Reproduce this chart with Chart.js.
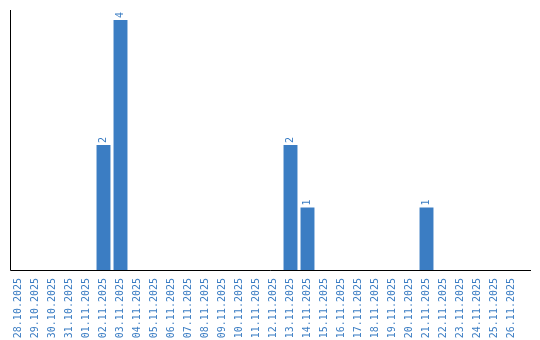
<!DOCTYPE html>
<html>
<head>
<meta charset="utf-8">
<script src="https://cdn.jsdelivr.net/npm/chart.js@4.4.1/dist/chart.umd.min.js"></script>
<style>
  html, body { margin: 0; padding: 0; background: #ffffff; }
  #wrap { width: 540px; height: 340px; }
</style>
</head>
<body>
<div id="wrap"><canvas id="chart"></canvas></div>
<script>
const day_labels = ['28.10.2025', '29.10.2025', '30.10.2025', '31.10.2025', '01.11.2025', '02.11.2025',
  '03.11.2025', '04.11.2025', '05.11.2025', '06.11.2025', '07.11.2025', '08.11.2025', '09.11.2025',
  '10.11.2025', '11.11.2025', '12.11.2025', '13.11.2025', '14.11.2025', '15.11.2025', '16.11.2025',
  '17.11.2025', '18.11.2025', '19.11.2025', '20.11.2025', '21.11.2025', '22.11.2025', '23.11.2025',
  '24.11.2025', '25.11.2025', '26.11.2025'];
const day_counts = [0, 0, 0, 0, 0, 2, 4, 0, 0, 0, 0, 0, 0, 0, 0, 0, 2, 1, 0, 0, 0, 0, 0, 0, 1, 0, 0, 0, 0, 0];

const bar_color = '#3b7dc3';
const font_family = '"DejaVu Sans Mono", "Liberation Mono", monospace';

// axis lines + rotated value labels on top of the bars
const decorations = {
  id: 'decorations',
  afterDatasetsDraw(chart) {
    const ctx = chart.ctx;
    const area = chart.chartArea;
    ctx.save();
    ctx.strokeStyle = '#000000';
    ctx.lineWidth = 1;
    ctx.beginPath();
    ctx.moveTo(area.left + 0.5, area.top);
    ctx.lineTo(area.left + 0.5, area.bottom + 0.5);
    ctx.lineTo(chart.width - 9, area.bottom + 0.5);
    ctx.stroke();

    ctx.fillStyle = bar_color;
    ctx.font = '10px ' + font_family;
    ctx.textAlign = 'left';
    ctx.textBaseline = 'middle';
    chart.getDatasetMeta(0).data.forEach(function (bar, i) {
      var v = day_counts[i];
      if (!v) return;
      ctx.save();
      ctx.translate(bar.x, bar.y - 2);
      ctx.rotate(-Math.PI / 2);
      ctx.fillText(String(v), 0, 0);
      ctx.restore();
    });
    ctx.restore();
  }
};

new Chart(document.getElementById('chart'), {
  type: 'bar',
  data: {
    labels: day_labels,
    datasets: [{
      data: day_counts,
      backgroundColor: bar_color,
      barPercentage: 0.82,
      categoryPercentage: 1.0
    }]
  },
  options: {
    responsive: true,
    maintainAspectRatio: false,
    animation: false,
    layout: { padding: { left: 10, right: 20, top: 10, bottom: 0 } },
    plugins: {
      legend: { display: false },
      tooltip: { enabled: false }
    },
    scales: {
      x: {
        grid: { display: false },
        border: { display: false },
        afterFit: function (scale) { scale.height = 70; },
        ticks: {
          color: bar_color,
          font: { family: font_family, size: 10 },
          minRotation: 90,
          maxRotation: 90,
          padding: 0,
          autoSkip: false
        }
      },
      y: {
        display: false,
        min: 0,
        max: Math.max(...day_counts) * 1.04
      }
    }
  },
  plugins: [decorations]
});
</script>
</body>
</html>
